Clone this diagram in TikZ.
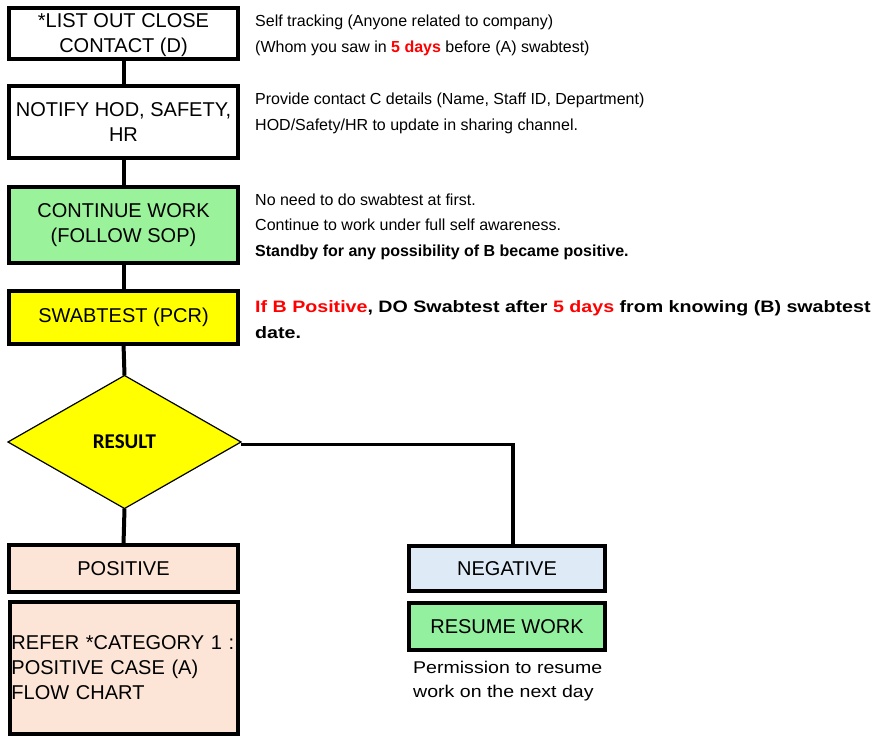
\documentclass[tikz,border=0pt]{standalone}
\usepackage{fontspec}
\setmainfont{Liberation Sans}
\newfontfamily\calib{Carlito}
\newfontfamily\widefont[FakeStretch=1.19]{Liberation Sans}
\newfontfamily\permfont[FakeStretch=1.15]{Liberation Sans}
\usetikzlibrary{shapes.geometric}
\definecolor{boxgreen}{RGB}{154,243,154}
\definecolor{resgreen}{RGB}{146,240,158}
\definecolor{peach}{RGB}{252,228,214}
\definecolor{lblue}{RGB}{222,235,247}
\definecolor{yel}{RGB}{255,255,0}
\definecolor{red5}{RGB}{255,0,0}
\tikzset{
  stepbox/.style={draw=black,line width=4pt,rectangle,inner sep=0pt,outer sep=0pt,align=center,
    font=\fontsize{20}{25}\selectfont},
  conn/.style={line width=4pt},
  note/.style={anchor=base west,align=left,inner sep=0pt,font=\fontsize{16}{25.5}\selectfont},
}
\begin{document}
\begin{tikzpicture}[x=1pt,y=-1pt]
\useasboundingbox (0,0) rectangle (876,737);
\node[stepbox,minimum width=229pt,minimum height=51pt] (b1) at (123.5,33.5) {\strut*LIST OUT CLOSE\\CONTACT (D)};
\node[stepbox,minimum width=229pt,minimum height=72pt] (b2) at (123.5,122) {NOTIFY HOD, SAFETY,\\HR};
\node[stepbox,fill=boxgreen,minimum width=229pt,minimum height=76pt] (b3) at (123.5,225) {CONTINUE WORK\\(FOLLOW SOP)};
\node[stepbox,fill=yel,minimum width=229pt,minimum height=53pt] (b4) at (123.5,317) {SWABTEST (PCR)};
\node[diamond,draw=black,line width=1.2pt,fill=yel,minimum width=233pt,minimum height=133pt,inner sep=0pt,outer sep=0pt,
  font=\calib\bfseries\fontsize{21}{23}\selectfont] (dia) at (124.5,442) {RESULT};
\node[stepbox,fill=peach,minimum width=229pt,minimum height=47pt] (pos) at (123.5,568.5) {POSITIVE};
\node[stepbox,fill=peach,minimum width=228pt,minimum height=132pt,text width=224pt,align=left] (ref) at (123.5,668)
  {REFER *CATEGORY 1 :\\POSITIVE CASE (A)\\FLOW CHART};
\node[stepbox,fill=lblue,minimum width=196pt,minimum height=45pt] (neg) at (507,568.5) {NEGATIVE};
\node[stepbox,fill=resgreen,minimum width=196pt,minimum height=47pt] (res) at (507,626.5) {RESUME WORK};

\draw[conn] (b1.south) -- (b2.north);
\draw[conn] (b2.south) -- (b3.north);
\draw[conn] (b3.south) -- (b4.north);
\draw[conn] (b4.south) -- (dia.north);
\draw[conn] (dia.south) -- (pos.north);
\coordinate (bend) at (513,444.5);
\draw[line width=3.5pt] (dia.east |- bend) -- (bend) -- (bend |- neg.north);

\node[note] (t1) at (255,52) {Self tracking (Anyone related to company)\\(Whom you saw in \textcolor{red5}{\textbf{5 days}} before (A) swabtest)};
\node[note] (t2) at (255,130) {Provide contact C details (Name, Staff ID, Department)\\HOD/Safety/HR to update in sharing channel.};
\node[note] (t3) at (255,256) {No need to do swabtest at first.\\Continue to work under full self awareness.\\\textbf{Standby for any possibility of B became positive.}};
\node[note,font=\widefont\bfseries\fontsize{16.5}{26}\selectfont] (t4) at (255,338) {\textcolor{red5}{If B Positive}, DO Swabtest after \textcolor{red5}{5 days} from knowing (B) swabtest\\date.};
\node[note,font=\permfont\fontsize{17}{24}\selectfont] (t5) at (413,697) {Permission to resume\\work on the next day};
\end{tikzpicture}
\end{document}
